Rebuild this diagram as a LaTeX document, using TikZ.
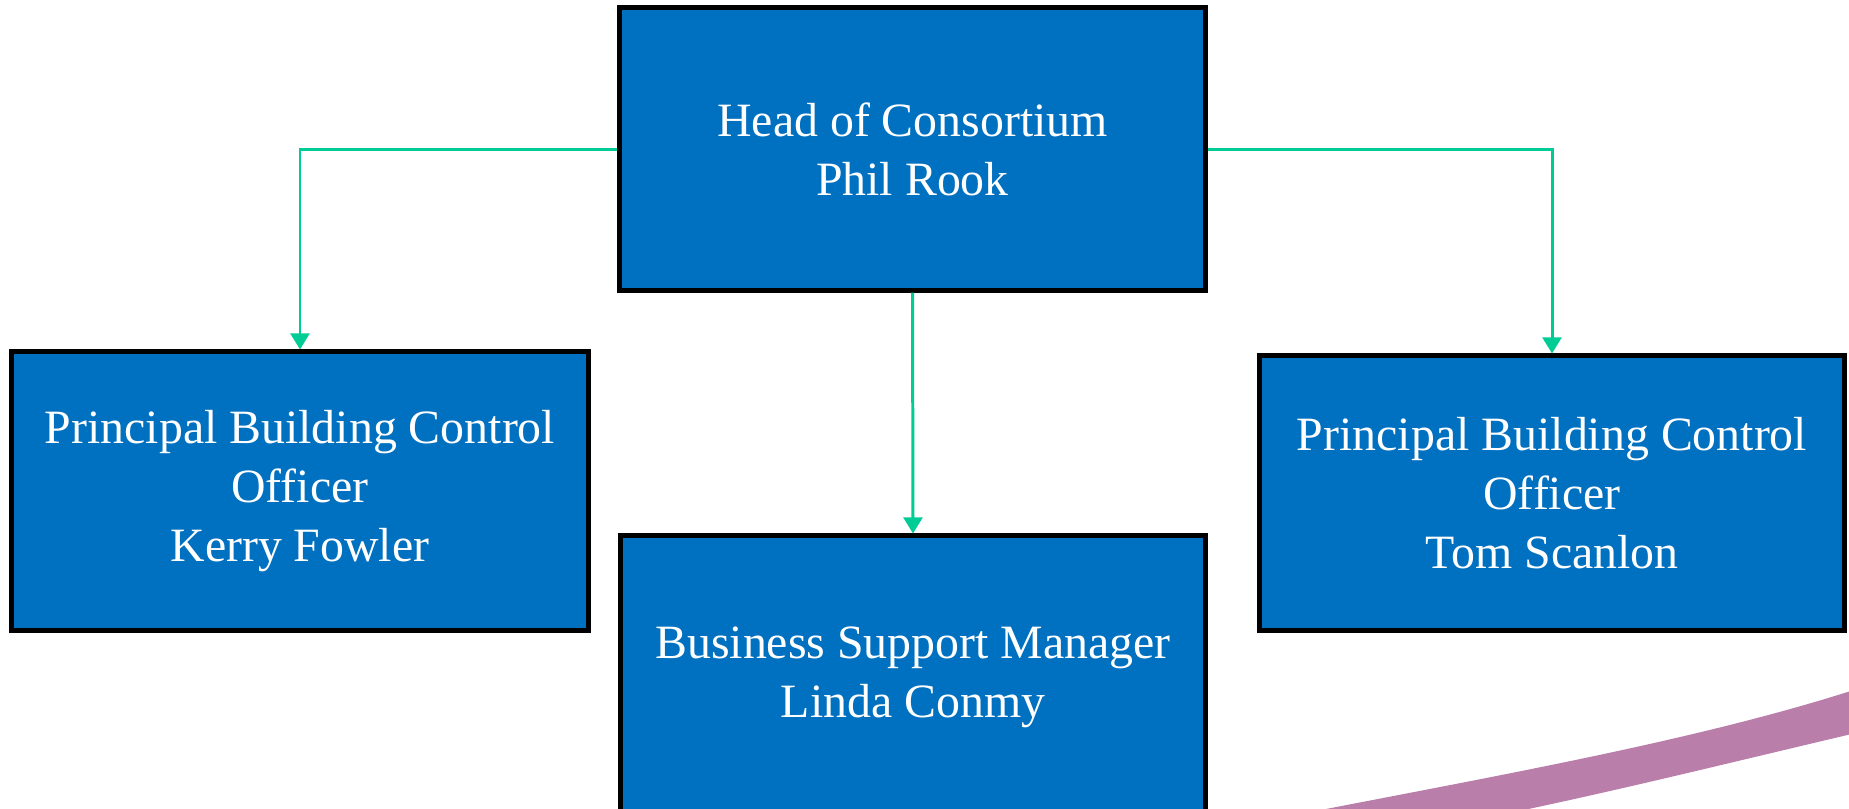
\documentclass[tikz,border=0pt]{standalone}
\usepackage{fontspec}
\setmainfont{Liberation Serif}
\usetikzlibrary{arrows.meta}
\definecolor{boxblue}{RGB}{0,112,192}
\definecolor{conngreen}{RGB}{0,204,150}
\definecolor{swoosh}{RGB}{185,127,170}
\tikzset{
  orgbox/.style={draw=black, line width=1.4pt, fill=boxblue, text=white, align=center,
    inner sep=0pt, font=\fontsize{13.6}{16.8}\selectfont},
  conn/.style={draw=conngreen, line width=0.85pt, -{Triangle[width=5.4pt,length=4.6pt]}}
}
\begin{document}
\begin{tikzpicture}[x=0.01cm,y=-0.01cm]
\useasboundingbox (0,0) rectangle (1849,808);
\clip (0,0) rectangle (1849,808);
\fill[white] (0,0) rectangle (1849,808);
% swoosh
\fill[swoosh] (1295,815) .. controls (1500,775) and (1700,740) .. (1860,688)
  -- (1860,732) .. controls (1720,765) and (1620,790) .. (1500,815) -- cycle;
% boxes
\node[orgbox, minimum width=5.85cm, minimum height=2.82cm] (top) at (912.5,149) {Head of Consortium\\Phil Rook};
\node[orgbox, minimum width=5.76cm, minimum height=2.78cm] (left) at (300,491) {Principal Building Control\\Officer\\Kerry Fowler};
\node[orgbox, minimum width=5.84cm, minimum height=2.74cm] (right) at (1552,493) {Principal Building Control\\Officer\\Tom Scanlon};
\node[orgbox, minimum width=5.84cm, minimum height=2.82cm] (bot) at (913,677) {Business Support Manager\\Linda Conmy};
% connectors
\draw[conn] (top.west) -| (left.north);
\draw[conn] (top.east) -| (right.north);
\draw[conn] (top.south) -- (bot.north);
\end{tikzpicture}
\end{document}
